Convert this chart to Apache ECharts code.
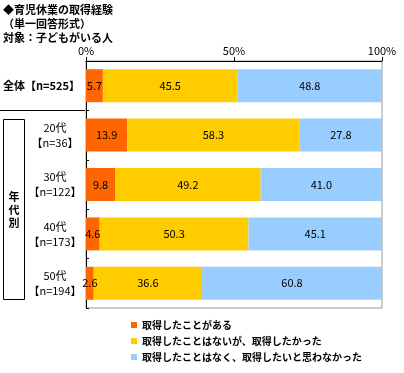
<!DOCTYPE html>
<html><head><meta charset="utf-8">
<script src="https://cdn.jsdelivr.net/npm/echarts@6/dist/echarts.min.js"></script>
<style>html,body{margin:0;padding:0;background:#fff}#c{width:404px;height:373px}</style>
</head><body><div id="c"></div>
<script>
const categories = ['全体【n=525】', '20代\n【n=36】', '30代\n【n=122】', '40代\n【n=173】', '50代\n【n=194】'];
const seriesNames = ['取得したことがある', '取得したことはないが、取得したかった', '取得したことはなく、取得したいと思わなかった'];
const took = [5.7, 13.9, 9.8, 4.6, 2.6];
const wanted = [45.5, 58.3, 49.2, 50.3, 36.6];
const notWanted = [48.8, 27.8, 41.0, 45.1, 60.8];
const xTicks = [0, 50, 100];
const colors = ['#ff6600', '#ffcc00', '#99ccff'];
const FONT = '"Noto Sans CJK JP", sans-serif';

const chart = echarts.init(document.getElementById('c'), null, {renderer: 'canvas'});
const lbl = {show: true, position: 'inside', color: '#000', fontSize: 11, fontFamily: FONT,
  formatter: p => p.value.toFixed(1)};
const mk = (name, data, i) => ({name, type: 'bar', stack: 's', data, barWidth: 33,
  itemStyle: {color: colors[i]}, label: lbl});
chart.setOption({
  animation: false,
  textStyle: {fontFamily: FONT},
  title: {text: '◆育児休業の取得経験\n（単一回答形式）\n対象：子どもがいる人', left: 3, top: 3, padding: 0,
    textStyle: {fontSize: 11, fontWeight: 'bold', lineHeight: 14, color: '#000', fontFamily: FONT}},
  grid: {left: 85, right: 22, top: 61, bottom: 65, show: true, borderColor: '#999', borderWidth: 1},
  xAxis: {type: 'value', position: 'top', min: 0, max: 100, interval: 50,
    axisLine: {show: true, lineStyle: {color: '#000'}},
    axisTick: {show: true, length: 4, lineStyle: {color: '#000'}},
    splitLine: {show: false},
    axisLabel: {formatter: v => xTicks.includes(v) ? v + '%' : '', fontSize: 11, color: '#000', margin: 5, fontFamily: FONT}},
  yAxis: {type: 'category', data: categories, inverse: true,
    axisLine: {show: true, lineStyle: {color: '#000'}},
    axisTick: {show: true, inside: true, length: 3, lineStyle: {color: '#000'}},
    axisLabel: {margin: 6, align: 'right', color: '#000', fontFamily: FONT,
      formatter: v => v.indexOf('\n') < 0 ? '{b|' + v + '}' : v.split('\n').map(s => '{a|' + s + '}').join('\n'),
      rich: {
        a: {fontSize: 11, width: 50, align: 'center', lineHeight: 15, color: '#000', fontFamily: FONT},
        b: {fontSize: 11, fontWeight: 'bold', color: '#000', fontFamily: FONT}
      }}},
  legend: {orient: 'vertical', left: 126, top: 315, itemWidth: 6, itemHeight: 6, itemGap: 6, icon: 'rect',
    textStyle: {fontSize: 10, fontWeight: 'bold', color: '#000', fontFamily: FONT}},
  series: [mk(seriesNames[0], took, 0), mk(seriesNames[1], wanted, 1), mk(seriesNames[2], notWanted, 2)],
  graphic: [
    {type: 'line', shape: {x1: 0, y1: 110.5, x2: 85, y2: 110.5}, style: {stroke: '#000', lineWidth: 1}},
    {type: 'rect', shape: {x: 3.5, y: 119.5, width: 21, height: 180}, style: {fill: 'none', stroke: '#000', lineWidth: 1}},
    {type: 'text', x: 14, y: 210, style: {text: '年\n代\n別', fontSize: 11, fontWeight: 'bold', lineHeight: 13,
      align: 'center', verticalAlign: 'middle', fill: '#000', fontFamily: FONT}}
  ]
});
</script></body></html>
